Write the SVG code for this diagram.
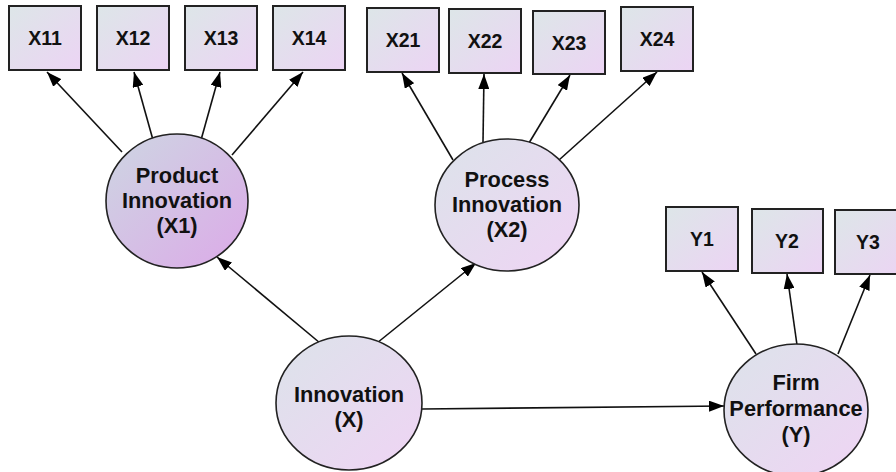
<svg xmlns="http://www.w3.org/2000/svg" width="896" height="472" viewBox="0 0 896 472">
<defs>
<linearGradient id="gBox" x1="0" y1="0" x2="1" y2="1">
<stop offset="0" stop-color="#dde6e8"/>
<stop offset="1" stop-color="#ecd4f4"/>
</linearGradient>
<linearGradient id="gEll" x1="0" y1="0" x2="1" y2="1">
<stop offset="0" stop-color="#dce3ea"/>
<stop offset="1" stop-color="#efd4f4"/>
</linearGradient>
<linearGradient id="gProd" x1="0" y1="0" x2="1" y2="1">
<stop offset="0" stop-color="#cdd6e2"/>
<stop offset="1" stop-color="#dcaae8"/>
</linearGradient>
<marker id="arr" viewBox="0 0 15 11" refX="15" refY="5.5" markerWidth="15" markerHeight="11" markerUnits="userSpaceOnUse" orient="auto">
<path d="M0,0 L15,5.5 L0,11 z" fill="#000"/>
</marker>
</defs>
<style>
.box{fill:url(#gBox);stroke:#222;stroke-width:2}
.ell{fill:url(#gEll);stroke:#222;stroke-width:1.6}
.bt{font-family:"Liberation Sans",Arial,sans-serif;font-weight:bold;font-size:19.5px;fill:#111;text-anchor:middle}
.et{font-family:"Liberation Sans",Arial,sans-serif;font-weight:bold;font-size:21.8px;fill:#111;text-anchor:middle}
.c{stroke:#111;stroke-width:1.6;fill:none;marker-end:url(#arr)}
</style>
<rect width="896" height="472" fill="#fff"/>
<g id="connectors">
<line class="c" x1="122" y1="152" x2="47" y2="72"/>
<line class="c" x1="153" y1="140" x2="134" y2="72"/>
<line class="c" x1="201" y1="140" x2="220" y2="72"/>
<line class="c" x1="232" y1="155" x2="303" y2="72"/>
<line class="c" x1="453" y1="160" x2="402" y2="73"/>
<line class="c" x1="483" y1="142" x2="484" y2="74"/>
<line class="c" x1="529" y1="143" x2="570" y2="75"/>
<line class="c" x1="559" y1="160" x2="657" y2="72"/>
<line class="c" x1="756" y1="354" x2="702" y2="272"/>
<line class="c" x1="797" y1="345" x2="787" y2="274"/>
<line class="c" x1="838" y1="354" x2="870" y2="275"/>
<line class="c" x1="320" y1="343" x2="217" y2="257"/>
<line class="c" x1="377" y1="343" x2="476" y2="263"/>
<line class="c" x1="422" y1="409" x2="724" y2="406"/>
</g>
<g id="X11"><rect class="box" x="9" y="6" width="72" height="64"/><text class="bt" x="45" y="45">X11</text></g>
<g id="X12"><rect class="box" x="97" y="6" width="72" height="64"/><text class="bt" x="133" y="45">X12</text></g>
<g id="X13"><rect class="box" x="185" y="6" width="72" height="64"/><text class="bt" x="221" y="45">X13</text></g>
<g id="X14"><rect class="box" x="273" y="6" width="72" height="64"/><text class="bt" x="309" y="45">X14</text></g>
<g id="X21"><rect class="box" x="367" y="8" width="72" height="64"/><text class="bt" x="403" y="47">X21</text></g>
<g id="X22"><rect class="box" x="449" y="9" width="72" height="64"/><text class="bt" x="485" y="48">X22</text></g>
<g id="X23"><rect class="box" x="533" y="11" width="72" height="63"/><text class="bt" x="569" y="50">X23</text></g>
<g id="X24"><rect class="box" x="621" y="7" width="72" height="64"/><text class="bt" x="657" y="46">X24</text></g>
<g id="Y1"><rect class="box" x="666" y="207" width="72" height="64"/><text class="bt" x="702" y="246">Y1</text></g>
<g id="Y2"><rect class="box" x="752" y="209" width="71" height="64"/><text class="bt" x="787" y="248">Y2</text></g>
<g id="Y3"><rect class="box" x="835" y="210" width="72" height="64"/><text class="bt" x="868" y="249">Y3</text></g>
<g id="X1"><ellipse cx="177" cy="201" rx="71" ry="67" fill="url(#gProd)" stroke="#222" stroke-width="1.6"/>
<text class="et" x="177" y="183">Product</text><text class="et" x="177" y="208">Innovation</text><text class="et" x="177" y="233">(X1)</text></g>
<g id="X2"><ellipse class="ell" cx="507" cy="205" rx="72" ry="66"/>
<text class="et" x="507" y="187">Process</text><text class="et" x="507" y="212">Innovation</text><text class="et" x="507" y="237">(X2)</text></g>
<g id="X"><ellipse class="ell" cx="349" cy="403" rx="73" ry="67"/>
<text class="et" x="349" y="402">Innovation</text><text class="et" x="349" y="427">(X)</text></g>
<g id="Y"><ellipse class="ell" cx="796" cy="410" rx="72" ry="66"/>
<text class="et" x="796" y="390">Firm</text><text class="et" x="796" y="416">Performance</text><text class="et" x="796" y="442">(Y)</text></g>
</svg>
